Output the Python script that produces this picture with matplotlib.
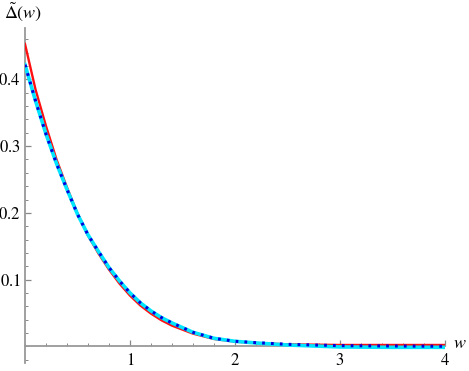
import numpy as np
import matplotlib
matplotlib.use("Agg")
import matplotlib.pyplot as plt
from matplotlib.ticker import MultipleLocator, FixedLocator

# values
w = [0.0, 0.1, 0.2, 0.3, 0.4, 0.5, 0.6, 0.7, 0.8, 0.9, 1.0,
     1.1, 1.2, 1.3, 1.4, 1.6, 1.8, 2.0, 2.2, 2.5, 3.0, 3.5, 4.0]
delta_red = [0.453, 0.385, 0.330, 0.280, 0.238, 0.199, 0.166, 0.139, 0.115, 0.094, 0.076,
             0.061, 0.049, 0.039, 0.031, 0.019, 0.011, 0.007, 0.005, 0.003, 0.002, 0.002, 0.002]
delta_blue = [0.422, 0.368, 0.318, 0.274, 0.235, 0.198, 0.167, 0.142, 0.118, 0.098, 0.080,
              0.065, 0.053, 0.043, 0.035, 0.021, 0.012, 0.0075, 0.0055, 0.003, 0.001, 0.0005, 0.0]
delta_cyan = [0.422, 0.368, 0.318, 0.274, 0.235, 0.198, 0.167, 0.142, 0.118, 0.098, 0.080,
              0.065, 0.053, 0.043, 0.035, 0.021, 0.012, 0.0075, 0.005, 0.002, -0.001, -0.0015, -0.0015]

x_ticks = [1, 2, 3, 4]
y_ticks = [0.1, 0.2, 0.3, 0.4]

plt.rcParams['font.family'] = 'serif'
plt.rcParams['font.serif'] = ['Liberation Serif', 'DejaVu Serif']
plt.rcParams['mathtext.fontset'] = 'stix'

fig = plt.figure(figsize=(4.69, 3.71), dpi=100)
ax = fig.add_axes([25/469, 8/371, 420/469, 335/371])

ax.plot(w, delta_red, color='#ff1010', lw=1.7, zorder=3)
ax.plot(w, delta_cyan, color='#00e5ff', lw=2.6, zorder=4)
ax.plot(w, delta_blue, color='#0000dd', lw=2.2, ls=(0, (0.9, 2.0)), zorder=5)

ax.set_xlim(0, 4.0)
ax.set_ylim(-0.025, 0.477)

for s in ['top', 'right']:
    ax.spines[s].set_visible(False)
ax.spines['left'].set_position(('data', 0))
ax.spines['bottom'].set_position(('data', 0))
for s in ['left', 'bottom']:
    ax.spines[s].set_color('#999999')
    ax.spines[s].set_linewidth(1.3)
    ax.spines[s].set_zorder(2)

ax.xaxis.set_major_locator(FixedLocator(x_ticks))
ax.xaxis.set_minor_locator(MultipleLocator(0.2))
ax.yaxis.set_major_locator(FixedLocator(y_ticks))
ax.yaxis.set_minor_locator(MultipleLocator(0.02))
ax.tick_params(which='both', direction='in', color='#888888', labelsize=12)
ax.tick_params(which='major', length=4, width=0.9)
ax.tick_params(which='minor', length=2.3, width=0.7)
ax.tick_params(axis='x', pad=5)
ax.tick_params(axis='y', pad=3)
ax.set_xticklabels([r'$\mathrm{%s}$' % t for t in x_ticks])
ax.set_yticklabels([r'$\mathrm{%s}$' % t for t in y_ticks])

fig.text(453/469, 1 - 344/371, '$w$', fontsize=13, ha='left', va='center')
fig.text(4/469, 1 - 12/371, r'$\tilde{\Delta}(w)$', fontsize=13, ha='left', va='center')

fig.savefig('out.png', dpi=100)
